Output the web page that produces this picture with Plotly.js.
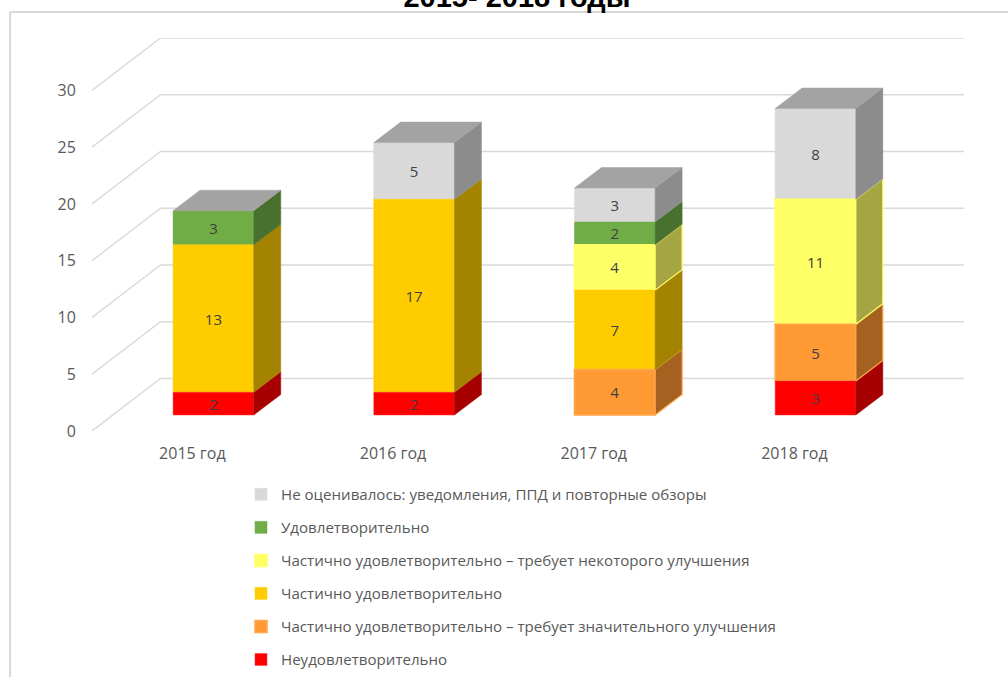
<!DOCTYPE html>
<html>
<head>
<meta charset="utf-8">
<script src="https://cdn.plot.ly/plotly-3.0.1.min.js"></script>
<style>html,body{margin:0;padding:0;background:#fff;overflow:hidden}#chart{width:1008px;height:677px}</style>
</head>
<body>
<div id="chart"></div>
<script>
const categories = ['2015 год', '2016 год', '2017 год', '2018 год'];
const yTicks = [0, 5, 10, 15, 20, 25, 30];

const unsatisfactory = [2, 2, null, 3];
const partialMajor = [null, null, 4, 5];
const partial = [13, 17, 7, null];
const partialMinor = [null, null, 4, 11];
const satisfactory = [3, null, 2, null];
const notRated = [null, 5, 3, 8];

const seriesNames = [
  'Неудовлетворительно',
  'Частично удовлетворительно – требует значительного улучшения',
  'Частично удовлетворительно',
  'Частично удовлетворительно – требует некоторого улучшения',
  'Удовлетворительно',
  'Не оценивалось: уведомления, ППД и повторные обзоры'
];
const seriesValues = [unsatisfactory, partialMajor, partial, partialMinor, satisfactory, notRated];
const frontColors = ['#ff0000', '#ff9933', '#ffcc00', '#ffff66', '#70ad47', '#d9d9d9'];
const sideColors = ['#a60000', '#a5611f', '#a38300', '#a5a543', '#48702e', '#8c8c8c'];
const lineColors = ['#ff3333', '#ffa64d', '#ffcc00', '#ffff66', '#70ad47', '#d9d9d9'];
const lineWidths = [0.5, 1.5, 0.5, 1.5, 0.5, 0.5];
const topColor = '#a3a3a3';

// Oblique projection, expressed in axis units
const wallDX = 0.341, wallDY = 4.62;     // depth of the floor
const barDX = 0.1345, barDY = 1.8;       // depth of a column
const barShiftX = 0.105, barShiftY = 1.41; // column position on the floor
const barWidth = 0.402;
const xRange = [-0.5, 3.845];
const yRange = [0, 30 + wallDY];
const FONT = '"Open Sans", "Noto Sans", sans-serif';
const xIdx = categories.map((_, i) => i);

const traces = [];
const cum = categories.map(() => 0);
const sideTraces = [];
seriesValues.forEach((vals, s) => {
  const bases = vals.map((v, i) => cum[i] + barShiftY);
  const sx = [], sy = [];
  vals.forEach((v, i) => {
    if (v === null) return;
    const r = i + barShiftX + barWidth / 2, b = bases[i], t = b + v;
    sx.push(r, r + barDX, r + barDX, r, r, null);
    sy.push(b, b + barDY, t + barDY, t, b, null);
    cum[i] += v;
  });
  traces.push({
    type: 'bar', name: seriesNames[s], legendgroup: 'g' + s,
    x: xIdx.map(i => i + barShiftX), y: vals, base: bases, width: barWidth,
    marker: {color: frontColors[s], line: {color: lineColors[s], width: lineWidths[s]}},
    text: vals.map(v => v === null ? '' : String(v)),
    textposition: 'inside', insidetextanchor: 'middle', textangle: 0, constraintext: 'none',
    insidetextfont: {family: FONT, size: 15, color: '#404040'},
    hoverinfo: 'skip'
  });
  sideTraces.push({
    type: 'scatter', mode: 'lines', x: sx, y: sy, fill: 'toself', fillcolor: sideColors[s],
    line: {color: lineWidths[s] > 1 ? lineColors[s] : sideColors[s], width: lineWidths[s] > 1 ? 1.2 : 0.5},
    showlegend: false, hoverinfo: 'skip'
  });
});
traces.reverse();

const tx = [], ty = [];
categories.forEach((_, i) => {
  const l = i + barShiftX - barWidth / 2, r = i + barShiftX + barWidth / 2, t = cum[i] + barShiftY;
  tx.push(l, r, r + barDX, l + barDX, l, null);
  ty.push(t, t, t + barDY, t + barDY, t, null);
});
const topTrace = {
  type: 'scatter', mode: 'lines', x: tx, y: ty, fill: 'toself', fillcolor: topColor,
  line: {color: topColor, width: 0.5}, showlegend: false, hoverinfo: 'skip'
};

const gridColor = '#d9d9d9';
const shapes = [];
yTicks.forEach(v => {
  shapes.push({type: 'line', layer: 'below', xref: 'x', yref: 'y', x0: xRange[0], y0: v, x1: xRange[0] + wallDX, y1: v + wallDY, line: {color: gridColor, width: 1.4}});
  shapes.push({type: 'line', layer: 'below', xref: 'x', yref: 'y', x0: xRange[0] + wallDX, y0: v + wallDY, x1: xRange[1], y1: v + wallDY, line: {color: gridColor, width: 1.6}});
});

const W = 1008, H = 677, M = {l: 92, r: 44, t: 38, b: 246};
const px = X => (X - M.l) / (W - M.l - M.r);
const py = Y => 1 - (Y - M.t) / (H - M.t - M.b);
shapes.push({type: 'line', layer: 'below', xref: 'paper', yref: 'paper', x0: px(10), y0: py(12), x1: px(1010), y1: py(12), line: {color: gridColor, width: 2}});
shapes.push({type: 'line', layer: 'below', xref: 'paper', yref: 'paper', x0: px(10), y0: py(12), x1: px(10), y1: py(680), line: {color: gridColor, width: 2}});

const layout = {
  width: W, height: H, margin: M, autosize: false,
  paper_bgcolor: '#ffffff', plot_bgcolor: 'rgba(0,0,0,0)',
  barmode: 'overlay', hovermode: false, dragmode: false,
  title: {
    text: '<b>2015- 2018 годы</b>', x: 517 / W, xanchor: 'center', y: 1 - 7 / H, yanchor: 'bottom',
    font: {family: '"Liberation Sans", Arial, sans-serif', size: 29, color: '#000000'}
  },
  xaxis: {
    type: 'linear', range: xRange, tickmode: 'array', tickvals: xIdx, ticktext: categories,
    showgrid: false, zeroline: false, showline: false, tickangle: 0,
    ticks: 'outside', ticklen: 8, tickcolor: 'rgba(0,0,0,0)',
    tickfont: {family: FONT, size: 16, color: '#595959'}
  },
  yaxis: {
    range: yRange, tickmode: 'array', tickvals: yTicks,
    showgrid: false, zeroline: false, showline: false,
    ticks: 'outside', ticklen: 12, tickcolor: 'rgba(0,0,0,0)',
    tickfont: {family: FONT, size: 16, color: '#595959'}
  },
  shapes: shapes,
  showlegend: true,
  legend: {
    xref: 'paper', yref: 'container',
    x: px(241), y: 1 - 478 / H, xanchor: 'left', yanchor: 'top',
    traceorder: 'grouped', tracegroupgap: 10.4,
    bgcolor: 'rgba(0,0,0,0)', itemclick: false, itemdoubleclick: false,
    font: {family: FONT, size: 15.1, color: '#595959'}
  }
};

Plotly.newPlot('chart', traces.concat(sideTraces, [topTrace]), layout, {displayModeBar: false, staticPlot: true});
</script>
</body>
</html>
